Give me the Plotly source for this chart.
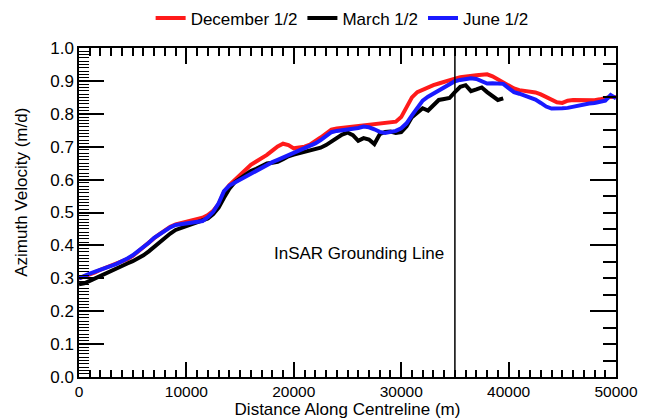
import plotly.graph_objects as go

# Distance along centreline (m), sampled every 500 m
dist_full = [i * 500 for i in range(101)]
dist_march = [i * 500 for i in range(80)]

december = [
    0.300, 0.305, 0.312, 0.318, 0.326, 0.332, 0.338, 0.345, 0.350, 0.358,
    0.368, 0.382, 0.394, 0.408, 0.422, 0.434, 0.447, 0.457, 0.464, 0.468,
    0.472, 0.475, 0.479, 0.484, 0.492, 0.505, 0.525, 0.562, 0.583, 0.598,
    0.613, 0.630, 0.645, 0.655, 0.664, 0.675, 0.688, 0.701, 0.709, 0.705,
    0.695, 0.697, 0.700, 0.706, 0.716, 0.728, 0.740, 0.752, 0.755, 0.757,
    0.758, 0.761, 0.763, 0.765, 0.767, 0.770, 0.771, 0.772, 0.774, 0.776,
    0.790, 0.822, 0.850, 0.866, 0.874, 0.881, 0.887, 0.892, 0.898, 0.903,
    0.907, 0.911, 0.914, 0.916, 0.917, 0.919, 0.920, 0.914, 0.905, 0.894,
    0.884, 0.877, 0.872, 0.870, 0.868, 0.865, 0.859, 0.852, 0.843, 0.835,
    0.833, 0.840, 0.842, 0.841, 0.840, 0.839, 0.841, 0.844, 0.847, 0.852,
    0.850,
]

june = [
    0.300, 0.308, 0.314, 0.320, 0.327, 0.333, 0.338, 0.344, 0.351, 0.360,
    0.370, 0.382, 0.394, 0.408, 0.423, 0.434, 0.446, 0.455, 0.462, 0.464,
    0.466, 0.467, 0.469, 0.474, 0.486, 0.502, 0.528, 0.565, 0.582, 0.591,
    0.600, 0.610, 0.620, 0.629, 0.637, 0.645, 0.653, 0.660, 0.667, 0.674,
    0.681, 0.687, 0.694, 0.700, 0.710, 0.720, 0.731, 0.744, 0.748, 0.750,
    0.751, 0.754, 0.757, 0.761, 0.759, 0.753, 0.745, 0.742, 0.744, 0.748,
    0.756, 0.771, 0.795, 0.818, 0.840, 0.852, 0.862, 0.871, 0.880, 0.891,
    0.899, 0.903, 0.907, 0.908, 0.906, 0.898, 0.892, 0.893, 0.893, 0.891,
    0.878, 0.866, 0.861, 0.856, 0.849, 0.843, 0.833, 0.822, 0.816, 0.815,
    0.817, 0.818, 0.822, 0.826, 0.829, 0.831, 0.833, 0.835, 0.840, 0.857,
    0.847,
]

march = [
    0.282, 0.285, 0.292, 0.300, 0.308, 0.316, 0.323, 0.330, 0.338, 0.345,
    0.352, 0.360, 0.370, 0.382, 0.396, 0.408, 0.422, 0.436, 0.447, 0.453,
    0.458, 0.462, 0.468, 0.475, 0.482, 0.495, 0.515, 0.545, 0.572, 0.592,
    0.604, 0.616, 0.626, 0.633, 0.642, 0.649, 0.651, 0.654, 0.662, 0.671,
    0.676, 0.680, 0.684, 0.688, 0.692, 0.697, 0.705, 0.716, 0.728, 0.737,
    0.743, 0.735, 0.718, 0.726, 0.722, 0.708, 0.738, 0.745, 0.746, 0.742,
    0.744, 0.762, 0.790, 0.805, 0.817, 0.810, 0.828, 0.842, 0.845, 0.848,
    0.866, 0.882, 0.887, 0.869, 0.874, 0.880, 0.866, 0.852, 0.842, 0.847,
]

grounding_line_x = 35000
grounding_label = "InSAR Grounding Line"
x_title = "Distance Along Centreline (m)"
y_title = "Azimuth Velocity (m/d)"

FONT = "Liberation Sans, Arial, Helvetica, sans-serif"

fig = go.Figure()
fig.add_trace(go.Scatter(x=dist_full, y=december, mode="lines", name="December 1/2",
                         line=dict(color="#ff1a1a", width=4)))
fig.add_trace(go.Scatter(x=dist_march, y=march, mode="lines", name="March 1/2",
                         line=dict(color="black", width=4)))
fig.add_trace(go.Scatter(x=dist_full, y=june, mode="lines", name="June 1/2",
                         line=dict(color="#1a1aff", width=4)))
# empty trace so the mirrored top/right axes are drawn
fig.add_trace(go.Scatter(x=[None], y=[None], xaxis="x2", yaxis="y2",
                         showlegend=False, hoverinfo="skip"))

fig.add_shape(type="line", x0=grounding_line_x, x1=grounding_line_x, y0=0, y1=1,
              xref="x", yref="y", line=dict(color="black", width=1.5), layer="above")
fig.add_annotation(x=grounding_line_x, y=0.374, xref="x", yref="y", text=grounding_label,
                   showarrow=False, xanchor="right", xshift=-9,
                   font=dict(size=17, color="black", family=FONT))
# vertical axis title, placed in the left margin
fig.add_annotation(x=(22 - 79) / 537, y=0.56, xref="paper", yref="paper", text=y_title,
                   showarrow=False, textangle=-90, xanchor="center", yanchor="middle",
                   font=dict(size=17, color="black", family=FONT))

axis_common = dict(showline=True, linecolor="black", linewidth=1.5, ticks="inside",
                   tickcolor="black", tickwidth=1.5, showgrid=False, zeroline=False,
                   automargin=False)

fig.update_layout(
    width=653, height=420,
    margin=dict(l=79, r=37, t=48, b=43, autoexpand=False),
    paper_bgcolor="white", plot_bgcolor="white",
    font=dict(family=FONT, size=17, color="black"),
    showlegend=True,
    legend=dict(orientation="h", x=0.49, xanchor="center", y=1.09, yanchor="middle",
                font=dict(size=17), itemwidth=30, tracegroupgap=0, bgcolor="rgba(0,0,0,0)"),
    xaxis=dict(range=[0, 50000], tickmode="linear", tick0=0, dtick=10000, ticklen=15,
               tickformat="d",
               minor=dict(ticks="inside", dtick=1000, ticklen=7, tickcolor="black", tickwidth=1.5),
               title=dict(text=x_title, standoff=2, font=dict(size=17)),
               tickfont=dict(size=15.5), mirror=False, **axis_common),
    yaxis=dict(range=[0, 1.0], tickmode="linear", tick0=0, dtick=0.1, ticklen=25,
               tickformat=".1f",
               minor=dict(ticks="inside", dtick=0.01, ticklen=10, tickcolor="black", tickwidth=1.2),
               tickfont=dict(size=17), mirror=False, **axis_common),
    xaxis2=dict(overlaying="x", side="top", range=[0, 50000], tickmode="linear", tick0=0,
                dtick=10000, ticklen=16, showticklabels=False,
                minor=dict(ticks="inside", dtick=1000, ticklen=8, tickcolor="black", tickwidth=1.5),
                **axis_common),
    yaxis2=dict(overlaying="y", side="right", range=[0, 1.0], tickmode="linear", tick0=0,
                dtick=0.2, ticklen=26, showticklabels=False,
                minor=dict(ticks="inside", dtick=0.05, ticklen=13, tickcolor="black", tickwidth=1.5),
                **axis_common),
)

fig.write_html("out.html")
